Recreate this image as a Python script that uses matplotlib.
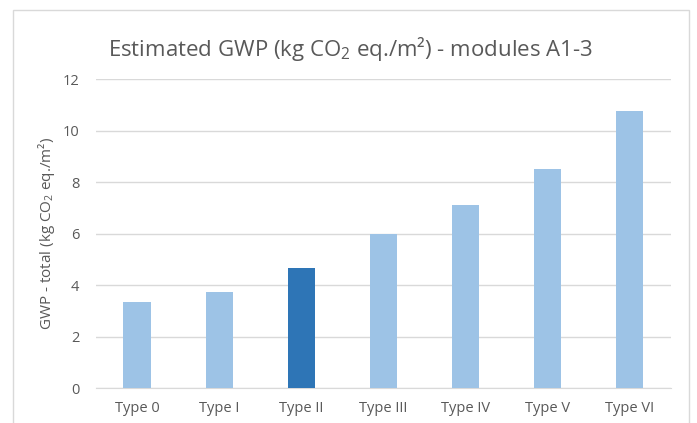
import numpy as np
import matplotlib.pyplot as plt
from matplotlib.patches import Rectangle

categories = ['Type 0', 'Type I', 'Type II', 'Type III', 'Type IV', 'Type V', 'Type VI']
gwp_total = [3.34, 3.73, 4.65, 5.99, 7.11, 8.52, 10.76]
highlight = 'Type II'

plt.rcParams['font.family'] = ['Open Sans', 'DejaVu Sans']
plt.rcParams['mathtext.fontset'] = 'custom'
plt.rcParams['mathtext.rm'] = 'Open Sans'
plt.rcParams['mathtext.it'] = 'Open Sans'

text_col = '#595959'
light = '#9DC3E6'
dark = '#2E75B6'

fig = plt.figure(figsize=(6.97, 4.23), dpi=100)
ax = fig.add_axes([0.1377, 0.0827, 0.825, 0.7305])

# outer chart border
fig.patches.append(Rectangle((13 / 697, -0.1), 676 / 697, 1.1 - 10 / 423,
                             transform=fig.transFigure, fill=False,
                             edgecolor='#D9D9D9', linewidth=1))

x = np.arange(len(categories))
colors = [dark if c == highlight else light for c in categories]
ax.bar(x, gwp_total, width=0.33, color=colors, zorder=3)

ax.set_xlim(-0.5, len(categories) - 0.5)
ax.set_ylim(0, 12)
ax.set_yticks(np.arange(0, 13, 2))
ax.set_xticks(x)
ax.set_xticklabels(categories)
ax.yaxis.grid(True, color='#D9D9D9', linewidth=1, zorder=0)
for s in ['top', 'right', 'left']:
    ax.spines[s].set_visible(False)
ax.spines['bottom'].set_color('#D9D9D9')
ax.tick_params(axis='both', length=0, colors=text_col, labelsize=10.5)
ax.tick_params(axis='y', pad=12)
ax.tick_params(axis='x', pad=9)

ax.set_ylabel('GWP - total (kg CO$_2$ eq./m²)', color=text_col, fontsize=11, labelpad=4)
fig.text(0.503, 0.885, 'Estimated GWP (kg CO$_2$ eq./m²) - modules A1-3',
         ha='center', va='center', color=text_col, fontsize=16)

plt.savefig('out.png')
